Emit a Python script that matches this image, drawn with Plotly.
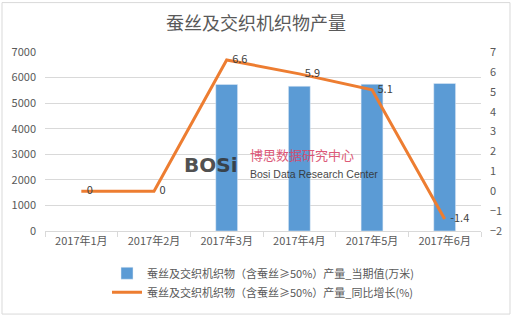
import plotly.graph_objects as go

months = ["2017年1月", "2017年2月", "2017年3月", "2017年4月", "2017年5月", "2017年6月"]
output_vals = [None, None, 5730, 5660, 5740, 5770]
yoy_vals = [0, 0, 6.6, 5.9, 5.1, -1.4]
yoy_labels = ["0", "0", "6.6", "5.9", "5.1", "-1.4"]
left_ticks = [0, 1000, 2000, 3000, 4000, 5000, 6000, 7000]
right_ticks = [-2, -1, 0, 1, 2, 3, 4, 5, 6, 7]

FONT = "Noto Sans CJK SC, Microsoft YaHei, sans-serif"
GREY = "#595959"

fig = go.Figure()
fig.add_trace(go.Bar(
    x=months, y=output_vals,
    name="蚕丝及交织机织物（含蚕丝≥50%）产量_当期值(万米)",
    marker=dict(color="#5B9BD5"), width=0.3,
))
fig.add_trace(go.Scatter(
    x=months, y=yoy_vals, yaxis="y2", mode="lines+text",
    name="蚕丝及交织机织物（含蚕丝≥50%）产量_同比增长(%)",
    line=dict(color="#ED7D31", width=3),
    text=["\u2002" + t for t in yoy_labels], textposition="middle right",
    textfont=dict(size=11, color="#404040", family=FONT),
))

fig.update_layout(
    width=512, height=319,
    margin=dict(l=45, r=31, t=52, b=86),
    paper_bgcolor="white", plot_bgcolor="white",
    font=dict(family=FONT, size=11, color=GREY),
    title=dict(text="蚕丝及交织机织物产量", x=0.5, xanchor="center", y=0.925, yanchor="middle",
               font=dict(size=18, color=GREY, family=FONT)),
    bargap=0.7,
    showlegend=True,
    legend=dict(orientation="v", x=0.5, xanchor="center", y=-0.155, yanchor="top",
                font=dict(size=11, color=GREY, family=FONT), tracegroupgap=0,
                itemwidth=30),
    xaxis=dict(type="category", showline=True, linecolor="#d9d9d9", ticks="outside",
               tickson="boundaries", ticklen=5, tickcolor="#d9d9d9",
               tickfont=dict(size=11, color=GREY)),
    yaxis=dict(range=[0, 7000], tickvals=left_ticks, showgrid=True, gridcolor="#d9d9d9",
               zeroline=False, tickfont=dict(size=11, color=GREY), ticks="",
               ticklabelstandoff=8, automargin=False),
    yaxis2=dict(range=[-2, 7], tickvals=right_ticks, overlaying="y", side="right",
                showgrid=False, zeroline=False, tickfont=dict(size=11, color=GREY),
                ticklabelstandoff=8, automargin=False),
)

# watermark
fig.add_annotation(xref="paper", yref="paper", x=0.315, y=0.37, text="<b>BOSi</b>",
                   showarrow=False, font=dict(size=20, color="#333333", family="DejaVu Sans"),
                   xanchor="left", yanchor="middle", opacity=0.85)
fig.add_annotation(xref="paper", yref="paper", x=0.465, y=0.43, text="博思数据研究中心",
                   showarrow=False, font=dict(size=13, color="#d9486a", family=FONT),
                   xanchor="left", yanchor="middle", opacity=0.9)
fig.add_annotation(xref="paper", yref="paper", x=0.465, y=0.32, text="Bosi Data Research Center",
                   showarrow=False, font=dict(size=10.5, color="#333333", family="Liberation Sans Narrow, Liberation Sans"),
                   xanchor="left", yanchor="middle", opacity=0.9)

fig.add_shape(type="rect", xref="paper", yref="paper", x0=-0.0986, x1=1.0665, y0=-0.464, y1=1.276,
              line=dict(color="#d9d9d9", width=1))

fig.write_html("out.html")
